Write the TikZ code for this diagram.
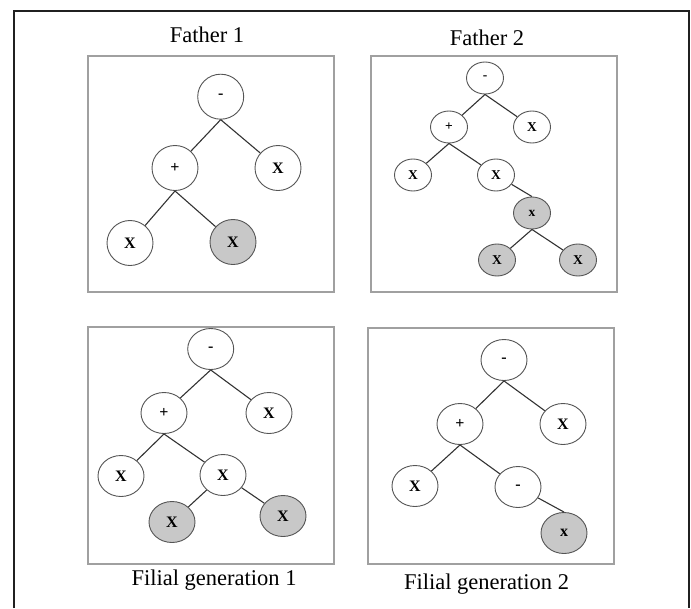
\documentclass[tikz,border=0pt]{standalone}
\usepackage{fontspec}
\setmainfont{Liberation Serif}
\usetikzlibrary{shapes.geometric}

\definecolor{frameline}{HTML}{202020}
\definecolor{boxline}{HTML}{A0A0A0}
\definecolor{nodeline}{HTML}{555555}
\definecolor{edgeline}{HTML}{333333}
\definecolor{leafgray}{HTML}{C8C8C8}

\tikzset{
  nd/.style 2 args={ellipse, draw=nodeline, line width=0.9pt, fill=white,
    inner sep=0pt, minimum width=#1, minimum height=#2,
    font=\bfseries\fontsize{16}{16}\selectfont},
  big/.style={nd={46pt}{45pt}},
  mid/.style={nd={46pt}{41pt}},
  small/.style={nd={37pt}{32pt}, font=\bfseries\fontsize{13.5}{13.5}\selectfont},
  shaded/.style={fill=leafgray},
  edge/.style={draw=edgeline, line width=1.1pt},
  panel/.style={draw=boxline, line width=1.2pt},
  caption/.style={font=\fontsize{22.5}{24}\selectfont, anchor=base, inner sep=0pt}
}

\begin{document}
\begin{tikzpicture}[x=1pt, y=-1pt]
\useasboundingbox (0,0) rectangle (691,608);

% outer frame, open at the bottom
\draw[frameline, line width=1.6pt] (14,608) -- (14,11) -- (689,11) -- (689,608);

% panels
\draw[panel] (88,56) rectangle (334,292);
\draw[panel] (371,56) rectangle (617,292);
\draw[panel] (88,327) rectangle (334,564);
\draw[panel] (368,328) rectangle (614,564);

% captions
\node[caption] (t1) at (207,42) {Father 1};
\node[caption] (t2) at (487,45) {Father 2};
\node[caption] (t3) at (214,585) {Filial generation 1};
\node[caption] (t4) at (486.5,589) {Filial generation 2};

% Father 1
\node[big] (r1) at (220.7,96.7) {-};
\node[big] (p1) at (175,168) {+};
\node[big] (xr1) at (278,168) {X};
\node[big] (xl1) at (130,243) {X};
\node[big, shaded] (xg1) at (233,242) {X};
\draw[edge] (r1.south) -- (p1);
\draw[edge] (r1.south) -- (xr1);
\draw[edge] (p1.south) -- (xl1);
\draw[edge] (p1.south) -- (xg1);

% Father 2
\node[small] (r2) at (485,78) {-};
\node[small] (p2) at (449,127) {+};
\node[small] (xr2) at (532,127) {X};
\node[small] (xl2) at (413,175) {X};
\node[small] (xm2) at (496,175) {X};
\node[small, shaded] (g2) at (532,213) {x};
\node[small, shaded] (gl2) at (497,260) {X};
\node[small, shaded] (gr2) at (578,260) {X};
\draw[edge] (r2.south) -- (p2);
\draw[edge] (r2.south) -- (xr2);
\draw[edge] (p2.south) -- (xl2);
\draw[edge] (p2.south) -- (xm2);
\draw[edge] (xm2) -- (g2.north);
\draw[edge] (g2.south) -- (gl2);
\draw[edge] (g2.south) -- (gr2);

% Filial generation 1
\node[mid] (r3) at (210.7,349) {-};
\node[mid] (p3) at (164,413) {+};
\node[mid] (xr3) at (269,413) {X};
\node[mid] (xl3) at (121,476) {X};
\node[mid] (xm3) at (223,475) {X};
\node[mid, shaded] (gl3) at (172,522) {X};
\node[mid, shaded] (gr3) at (283,516) {X};
\draw[edge] (r3.south) -- (p3);
\draw[edge] (r3.south) -- (xr3);
\draw[edge] (p3.south) -- (xl3);
\draw[edge] (p3.south) -- (xm3);
\draw[edge] (xm3) -- (gl3);
\draw[edge] (xm3) -- (gr3);

% Filial generation 2
\node[mid] (r4) at (504,360) {-};
\node[mid] (p4) at (460,424) {+};
\node[mid] (xr4) at (563,424) {X};
\node[mid] (xl4) at (415,486) {X};
\node[mid] (m4) at (518,487) {-};
\node[mid, shaded] (g4) at (564,533) {x};
\draw[edge] (r4.south) -- (p4);
\draw[edge] (r4.south) -- (xr4);
\draw[edge] (p4.south) -- (xl4);
\draw[edge] (p4.south) -- (m4);
\draw[edge] (m4) -- (g4.north);
\end{tikzpicture}
\end{document}
